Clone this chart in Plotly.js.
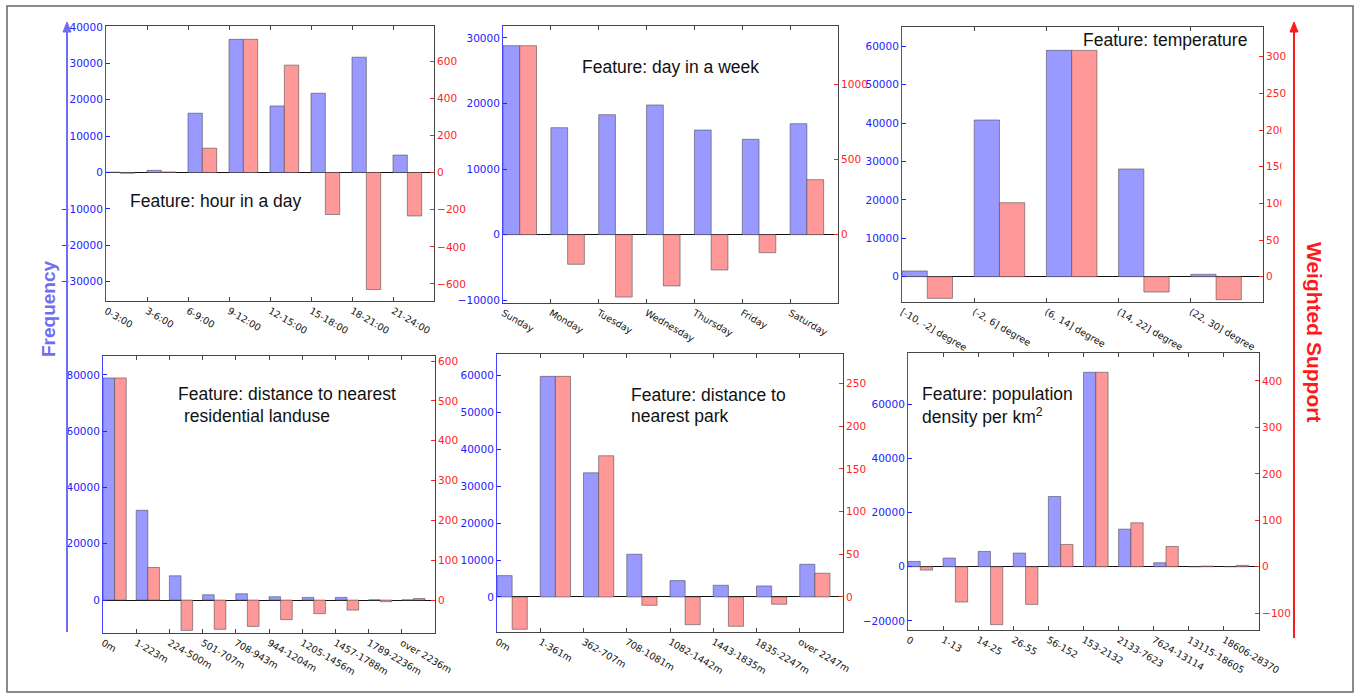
<!DOCTYPE html>
<html>
<head>
<meta charset="utf-8">
<script src="https://cdn.plot.ly/plotly-3.0.1.min.js"></script>
<style>
html,body{margin:0;padding:0;background:#fff;}
#chart{width:1357px;height:697px;}
</style>
</head>
<body>
<div id="chart"></div>
<script>
// ---------------- data ----------------
const hourCats = ['0-3:00', '3-6:00', '6-9:00', '9-12:00', '12-15:00', '15-18:00', '18-21:00', '21-24:00'];
const hourFreq = [100, 600, 16300, 36600, 18300, 21800, 31700, 4800];
const hourSupport = [-4, 3, 131, 717, 578, -226, -630, -234];

const dayCats = ['Sunday', 'Monday', 'Tuesday', 'Wednesday', 'Thursday', 'Friday', 'Saturday'];
const dayFreq = [28830, 16320, 18300, 19780, 15960, 14540, 16930];
const daySupport = [1257, -197, -415, -341, -235, -120, 366];

const tempCats = ['[-10, -2] degree', '(-2, 6] degree', '(6, 14] degree', '(14, 22] degree', '(22, 30] degree'];
const tempFreq = [1480, 40800, 58940, 28040, 610];
const tempSupport = [-29.5, 100.9, 308.6, -20.9, -31.4];

const resCats = ['0m', '1-223m', '224-500m', '501-707m', '708-943m', '944-1204m', '1205-1456m', '1457-1788m', '1789-2236m', 'over 2236m'];
const resFreq = [78940, 31900, 8630, 1890, 2250, 1180, 950, 950, 80, 60];
const resSupport = [557.6, 81.8, -76, -73.5, -66, -49, -34, -25, -4, 4];

const parkCats = ['0m', '1-361m', '362-707m', '708-1081m', '1082-1442m', '1443-1835m', '1835-2247m', 'over 2247m'];
const parkFreq = [5780, 59710, 33600, 11560, 4430, 3160, 2980, 8850];
const parkSupport = [-37.9, 258.6, 165.5, -9.8, -32.5, -34.4, -8.6, 27.8];

const popCats = ['0', '1-13', '14-25', '26-55', '56-152', '153-2132', '2133-7623', '7624-13114', '13115-18605', '18606-28370'];
const popFreq = [1970, 3200, 5660, 5050, 25970, 71880, 13910, 1480, 50, 60];
const popSupport = [-7.2, -76, -124.7, -81, 48, 418.6, 94.6, 43.7, 1.4, 2.9];

// ---------------- layout helpers ----------------
const W = 1357, H = 697;
const fx = p => p / W;
const fy = p => 1 - p / H;

const panels = [
  {cats: hourCats, freq: hourFreq, sup: hourSupport, box: [106, 26, 434, 301], yl: [-35320, 40275], yr: [-691.6, 788.6], dl: 10000, dr: 200},
  {cats: dayCats, freq: dayFreq, sup: daySupport, box: [503, 26, 838, 303], yl: [-10422, 31826], yr: [-454.5, 1388], dl: 10000, dr: 500},
  {cats: tempCats, freq: tempFreq, sup: tempSupport, box: [902, 27, 1263, 302], yl: [-6597, 65017], yr: [-34.5, 340.5], dl: 10000, dr: 50},
  {cats: resCats, freq: resFreq, sup: resSupport, box: [103, 356, 435, 633], yl: [-11699, 86735], yr: [-82.6, 612.7], dl: 20000, dr: 100},
  {cats: parkCats, freq: parkFreq, sup: parkSupport, box: [497, 354, 843, 632], yl: [-9485, 65763], yr: [-41.1, 284.8], dl: 10000, dr: 50},
  {cats: popCats, freq: popFreq, sup: popSupport, box: [908, 353, 1259, 630], yl: [-23385, 79015], yr: [-136.2, 460.2], dl: 20000, dr: 100}
];

const BLUE_FILL = '#9999ff', RED_FILL = '#ff9999';
const EDGE = 'rgba(70,70,70,0.55)';
const SPINE = '#444';
const yTickFont = {family: 'DejaVu Sans, sans-serif', size: 10.5};
const xTickFont = {family: 'DejaVu Sans, sans-serif', size: 9.5, color: '#111'};

const traces = [];
const layout = {
  width: W, height: H,
  margin: {l: 0, r: 0, t: 0, b: 0},
  paper_bgcolor: '#fff', plot_bgcolor: '#fff',
  showlegend: false,
  barmode: 'overlay',
  shapes: [], annotations: []
};

panels.forEach((p, k) => {
  const n = k + 1;
  const xa = 'x' + n, yL = 'y' + (2 * n - 1), yR = 'y' + (2 * n);
  const idx = p.cats.map((c, i) => i);
  traces.push({
    type: 'bar', x: idx, y: p.freq, offset: 0, width: 0.35,
    xaxis: xa, yaxis: yL,
    marker: {color: BLUE_FILL, line: {color: EDGE, width: 1}}, hoverinfo: 'skip'
  });
  traces.push({
    type: 'bar', x: idx, y: p.sup, offset: 0.35, width: 0.35,
    xaxis: xa, yaxis: yR,
    marker: {color: RED_FILL, line: {color: EDGE, width: 1}}, hoverinfo: 'skip'
  });
  const [x0, y0, x1, y1] = p.box;
  layout['xaxis' + n] = {
    domain: [fx(x0), fx(x1)], anchor: yL,
    range: [0, p.cats.length], tickmode: 'array', tickvals: idx, ticktext: p.cats,
    tickangle: 30, ticks: 'inside', ticklen: 4, tickcolor: SPINE,
    showline: true, linecolor: SPINE, linewidth: 1, mirror: 'ticks',
    showgrid: false, zeroline: false,
    tickfont: xTickFont, fixedrange: true
  };
  layout['yaxis' + (2 * n - 1)] = {
    domain: [fy(y1), fy(y0)], anchor: xa,
    range: p.yl, dtick: p.dl, tick0: 0, tickformat: 'd',
    ticks: 'inside', ticklen: 4, tickcolor: '#2222ff',
    showline: true, linecolor: '#4444ff', linewidth: 1,
    showgrid: false, zeroline: true, zerolinecolor: '#111', zerolinewidth: 1,
    tickfont: Object.assign({color: '#2222ff'}, yTickFont), fixedrange: true
  };
  layout['yaxis' + (2 * n)] = {
    overlaying: yL, anchor: xa, side: 'right',
    range: p.yr, dtick: p.dr, tick0: 0, tickformat: 'd',
    ticks: 'inside', ticklen: 4, tickcolor: '#ff2222',
    showline: true, linecolor: SPINE, linewidth: 1,
    showgrid: false, zeroline: false,
    tickfont: Object.assign({color: '#ff2222'}, yTickFont), fixedrange: true
  };
});

// ---------------- decorations ----------------
const annFont = {family: 'Liberation Sans, Arial, sans-serif', size: 17.5, color: '#111'};
function note(text, x, y, anchor) {
  layout.annotations.push({
    text: text, xref: 'paper', yref: 'paper', x: fx(x), y: fy(y),
    xanchor: anchor || 'left', yanchor: 'middle', showarrow: false, font: annFont
  });
}
note('Feature: hour in a day', 128, 201);
note('Feature: day in a week', 580, 67);
note('Feature: temperature', 1249, 40, 'right');
note('Feature: distance to nearest', 176, 394);
note('residential landuse', 182, 416);
note('Feature: distance to', 629, 395);
note('nearest park', 629, 416);
note('Feature: population', 920, 394);
note('density per km<sup>2</sup>', 920, 416);

layout.annotations.push({
  text: '<b>Frequency</b>', xref: 'paper', yref: 'paper', x: fx(48), y: fy(309),
  xanchor: 'center', yanchor: 'middle', textangle: -90, showarrow: false,
  font: {family: 'Liberation Sans, Arial, sans-serif', size: 19, color: '#6e6ef0'}
});
layout.annotations.push({
  text: '<b>Weighted Support</b>', xref: 'paper', yref: 'paper', x: fx(1315), y: fy(332),
  xanchor: 'center', yanchor: 'middle', textangle: 90, showarrow: false,
  font: {family: 'Liberation Sans, Arial, sans-serif', size: 21, color: '#ff1a1a'}
});

function pline(xa, ya, xb, yb, color, width) {
  layout.shapes.push({type: 'line', xref: 'paper', yref: 'paper',
    x0: fx(xa), y0: fy(ya), x1: fx(xb), y1: fy(yb), line: {color: color, width: width}, layer: 'above'});
}
function head(x, tip, color) {
  layout.shapes.push({type: 'path', xref: 'paper', yref: 'paper', layer: 'above',
    path: 'M ' + fx(x) + ' ' + fy(tip) + ' L ' + fx(x - 4) + ' ' + fy(tip + 10) + ' L ' + fx(x + 4) + ' ' + fy(tip + 10) + ' Z',
    fillcolor: color, line: {color: color, width: 1}});
}
// clip of right tick labels in the temperature panel
layout.shapes.push({type: 'rect', xref: 'paper', yref: 'paper', layer: 'above',
  x0: fx(1281.5), x1: fx(1292), y0: fy(215), y1: fy(112), fillcolor: '#fff', line: {width: 0}});
// arrows
pline(67, 632, 67, 30, '#6e6ef0', 2);
head(67, 22, '#6e6ef0');
pline(1294, 638, 1294, 30, '#ff1a1a', 2);
head(1294, 22, '#ff1a1a');
// outer frame
layout.shapes.push({type: 'rect', xref: 'paper', yref: 'paper', layer: 'above',
  x0: fx(7), x1: fx(1353), y0: fy(692), y1: fy(6), line: {color: '#666', width: 1.5}});

Plotly.newPlot('chart', traces, layout, {staticPlot: true, displayModeBar: false});
</script>
</body>
</html>
